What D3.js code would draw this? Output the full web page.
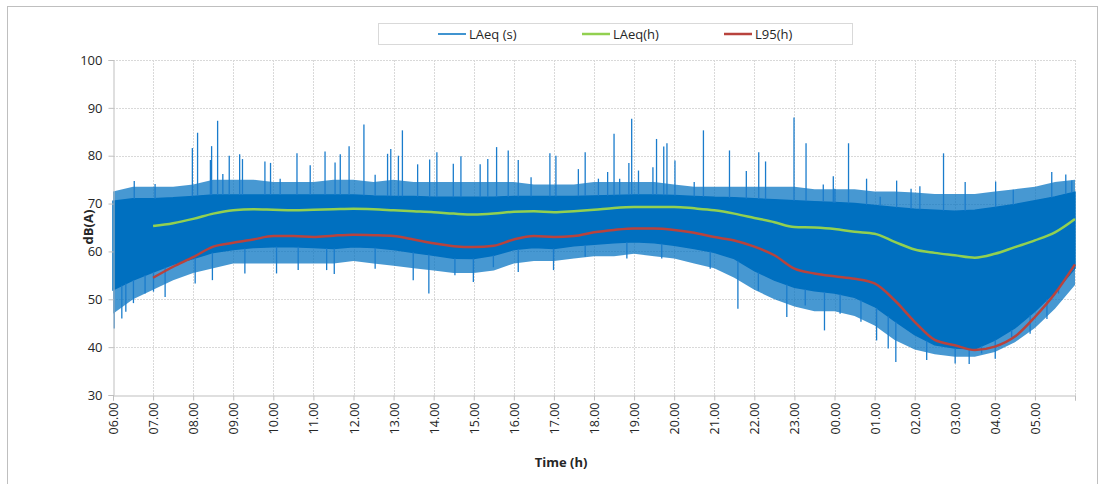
<!DOCTYPE html>
<html lang="en">
    <head>
        <meta charset="utf-8"/>
        <script src="https://d3js.org/d3.v7.min.js"></script>
        <style>
            body { margin: 0; background: #fff; }
            text { font-family: "Open Sans", "Noto Sans", sans-serif; }
        </style>
    </head>
    <body>
        <div id="chart"></div>
    </body>
    <script>
        // time in hours after 06.00, half-hour steps
        var tSteps = [0, 0.5, 1, 1.5, 2, 2.5, 3, 3.5, 4, 4.5, 5, 5.5, 6, 6.5, 7, 7.5, 8, 8.5, 9, 9.5,
            10, 10.5, 11, 11.5, 12, 12.5, 13, 13.5, 14, 14.5, 15, 15.5, 16, 16.5, 17, 17.5, 18, 18.5,
            19, 19.5, 20, 20.5, 21, 21.5, 22, 22.5, 23, 23.5, 24];

        var hourLabels = ["06.00", "07.00", "08.00", "09.00", "10.00", "11.00", "12.00", "13.00",
            "14.00", "15.00", "16.00", "17.00", "18.00", "19.00", "20.00", "21.00", "22.00", "23.00",
            "00.00", "01.00", "02.00", "03.00", "04.00", "05.00"];

        // LAeq (s): dense band, top and bottom of the solid part
        var laeqSHigh = [70.5, 71, 71, 71.2, 71.5, 71.8, 71.8, 71.8, 71.8, 71.8, 71.8, 71.8, 71.8, 71.6,
            71.5, 71.5, 71.3, 71.3, 71.3, 71.3, 71.5, 71.5, 71.5, 71.5, 71.6, 71.7, 71.8, 71.8, 71.7,
            71.5, 71.3, 71.2, 71.0, 70.8, 70.6, 70.4, 70.2, 70.0, 69.6, 69.2, 68.8, 68.6, 68.4, 68.6,
            69.2, 69.8, 70.6, 71.4, 72.4];
        var laeqSLow = [52, 54, 55.7, 57.3, 58.5, 59.8, 60.4, 60.8, 61, 61, 60.8, 60.6, 61.0, 60.8,
            60.4, 59.8, 59.2, 58.6, 58.5, 59.2, 60.4, 60.8, 60.6, 61.2, 61.5, 61.8, 62.0, 61.8, 61.3,
            60.6, 59.8, 58.5, 56.0, 54.0, 52.5, 51.8, 51.3, 50.4, 48.5, 45.5, 42.6, 40.5, 39.8, 39.6,
            41.5, 44.0, 47.5, 51.6, 56.5];

        // LAeq (s): reach of the thin fringe around the solid part
        var laeqSFringeHigh = [72.5, 73.5, 73.5, 73.5, 74, 75, 75, 75, 74.5, 74.5, 74.5, 75, 75, 74.5,
            75, 74.5, 74.5, 74.5, 74.5, 74.5, 74.5, 74, 74, 74, 74.5, 74.5, 74.5, 74.5, 74, 73.5, 73.5,
            73.5, 73.5, 73.5, 73.5, 73, 73, 73, 72.5, 72.5, 72.3, 72, 72, 72, 72.5, 73, 73.5, 74.5, 75];
        var laeqSFringeLow = [47, 50, 52, 54, 55.5, 56.5, 57.5, 57.5, 57.5, 57.5, 57.5, 57.5, 58, 57.5,
            57, 56.5, 56, 55.5, 55.5, 56, 57.5, 58, 58, 58.5, 59, 59, 59.5, 59, 58.5, 57.5, 56.5, 54.5,
            52, 50, 48.5, 47.5, 47.5, 46.5, 44.5, 41.5, 39.5, 38.5, 38, 38, 39, 41, 44, 48, 53];

        // LAeq (s): single peaks [hour, dB]
        var peaksUp = [[0.53, 74.7], [1.05, 74.1], [1.98, 81.6], [2.11, 84.8], [2.43, 79.1], [2.46, 82.0],
            [2.61, 87.3], [2.74, 76.2], [2.90, 80.0], [3.16, 80.3], [3.23, 79.3], [3.79, 78.8],
            [3.93, 78.5], [4.17, 75.2], [4.59, 80.5], [4.92, 78.0], [5.29, 80.9], [5.54, 78.6],
            [5.67, 80.3], [5.89, 82.0], [6.26, 86.5], [6.54, 76.0], [6.85, 80.4], [6.93, 81.4],
            [7.12, 80.0], [7.22, 85.3], [7.60, 78.2], [7.90, 79.2], [8.08, 80.7], [8.49, 78.3],
            [8.68, 79.9], [9.16, 78.2], [9.35, 79.3], [9.57, 81.8], [9.86, 81.1], [10.11, 79.1],
            [10.43, 75.5], [10.90, 80.5], [11.05, 80.0], [11.61, 77.2], [11.78, 80.7], [12.11, 75.2],
            [12.34, 76.6], [12.50, 84.6], [12.64, 75.2], [12.87, 78.5], [12.94, 87.7], [13.11, 76.9],
            [13.47, 77.6], [13.56, 83.5], [13.74, 81.9], [13.82, 82.6], [14.02, 79.0], [14.50, 74.5],
            [14.73, 85.3], [15.38, 81.1], [15.80, 76.8], [16.11, 80.7], [16.28, 78.8], [16.99, 88.0],
            [17.29, 82.6], [17.72, 74.0], [17.97, 75.7], [18.01, 73.1], [18.35, 82.6], [18.80, 75.2],
            [19.14, 71.4], [19.55, 74.8], [19.91, 73.1], [20.13, 73.6], [20.72, 80.5], [21.26, 74.5],
            [22.02, 74.6], [22.46, 72.9], [23.42, 76.6], [23.77, 76.1], [23.92, 74.8]];

        // LAeq (s): single dips [hour, dB]
        var peaksDown = [[0.03, 43.9], [0.22, 46.0], [0.32, 47.4], [0.51, 49.2], [0.80, 51.2], [1.01, 51.6],
            [1.30, 50.5], [2.05, 53.3], [2.48, 54.0], [3.29, 55.4], [4.08, 55.4], [4.62, 56.1],
            [5.33, 56.1], [5.52, 55.3], [6.54, 56.4], [7.49, 54.0], [7.88, 51.2], [8.53, 55.0],
            [8.99, 53.6], [9.49, 56.7], [10.11, 55.7], [10.99, 56.1], [11.78, 58.9], [12.82, 58.5],
            [13.69, 58.5], [14.90, 56.4], [15.59, 48.0], [16.10, 51.8], [16.81, 46.3], [17.27, 48.7],
            [17.75, 43.5], [18.14, 47.0], [18.66, 45.3], [19.05, 41.4], [19.34, 39.7], [19.53, 36.9],
            [20.30, 37.3], [21.01, 36.6], [21.36, 36.5], [21.67, 38.7], [22.01, 37.6], [22.42, 42.1],
            [22.88, 42.8], [23.30, 45.9], [23.59, 51.2], [23.96, 56.7]];

        // hourly lines, from 07.00 (hour 1) to 06.00 (hour 24)
        var hourlyT = tSteps.slice(2);
        var laeqH = [65.3, 65.9, 66.8, 67.9, 68.6, 68.8, 68.7, 68.6, 68.7, 68.8, 68.9, 68.8, 68.6, 68.4,
            68.2, 67.9, 67.7, 67.9, 68.3, 68.4, 68.2, 68.4, 68.7, 69.1, 69.3, 69.3, 69.3, 69.0, 68.6,
            67.9, 67.0, 66.1, 65.1, 65.0, 64.7, 64.1, 63.7, 62.0, 60.4, 59.7, 59.2, 58.7, 59.5, 60.9,
            62.3, 64.0, 66.8];
        var l95H = [54.5, 56.8, 58.8, 61.0, 61.8, 62.5, 63.2, 63.2, 63.0, 63.3, 63.5, 63.4, 63.2, 62.5,
            61.7, 61.1, 60.9, 61.2, 62.5, 63.2, 63.0, 63.2, 64.0, 64.5, 64.8, 64.8, 64.5, 63.9, 63.0,
            62.3, 61.0, 59.2, 56.4, 55.4, 54.8, 54.3, 53.3, 49.8, 45.3, 41.5, 40.4, 39.4, 40.1, 42.2,
            46.3, 51.2, 57.3];

        var yTicks = [30, 40, 50, 60, 70, 80, 90, 100];

        var blue = "#0070c0", green = "#92d050", red = "#b8433d";

        var W = 1105, H = 484;
        var plot = {left: 113, right: 1075, top: 60, bottom: 395};

        var svg = d3.select("#chart")
            .append("svg")
                .attr("width", W)
                .attr("height", H);

        // outer frame
        svg.append("rect")
            .attr("x", 7.5).attr("y", 6.5)
            .attr("width", 1090).attr("height", 480)
            .attr("fill", "none")
            .attr("stroke", "#bfbfbf");

        var x = d3.scaleLinear().domain([0, 24]).range([plot.left, plot.right]);
        var y = d3.scaleLinear().domain([30, 100]).range([plot.bottom, plot.top]);

        // grid
        var grid = svg.append("g");
        grid.selectAll(".gy")
            .data(yTicks.slice(1))
            .enter()
            .append("line")
                .attr("x1", plot.left).attr("x2", plot.right)
                .attr("y1", function (d) { return Math.round(y(d)) + 0.5; })
                .attr("y2", function (d) { return Math.round(y(d)) + 0.5; })
                .attr("stroke", "#d9d9d9")
                .attr("stroke-dasharray", "2,1");
        grid.selectAll(".gx")
            .data(d3.range(1, 25))
            .enter()
            .append("line")
                .attr("x1", function (d) { return Math.round(x(d)) + 0.5; })
                .attr("x2", function (d) { return Math.round(x(d)) + 0.5; })
                .attr("y1", plot.top).attr("y2", plot.bottom)
                .attr("stroke", "#d9d9d9")
                .attr("stroke-dasharray", "2,1");

        // LAeq (s) fringe, then solid band
        var fringe = d3.area()
            .x(function (d, i) { return x(tSteps[i]); })
            .y0(function (d, i) { return y(laeqSFringeLow[i]); })
            .y1(function (d, i) { return y(laeqSFringeHigh[i]); });
        svg.append("path")
            .datum(tSteps)
            .attr("d", fringe)
            .attr("fill", blue)
            .attr("fill-opacity", 0.72);

        var band = d3.area()
            .x(function (d, i) { return x(tSteps[i]); })
            .y0(function (d, i) { return y(laeqSLow[i]); })
            .y1(function (d, i) { return y(laeqSHigh[i]); });
        svg.append("path")
            .datum(tSteps)
            .attr("d", band)
            .attr("fill", blue)
            .attr("stroke", blue)
            .attr("stroke-width", 1.5);

        var hiAt = d3.scaleLinear().domain(tSteps).range(laeqSHigh);
        var loAt = d3.scaleLinear().domain(tSteps).range(laeqSLow);

        svg.append("g").selectAll("line")
            .data(peaksUp)
            .enter()
            .append("line")
                .attr("x1", function (d) { return x(d[0]); })
                .attr("x2", function (d) { return x(d[0]); })
                .attr("y1", function (d) { return y(hiAt(d[0])); })
                .attr("y2", function (d) { return y(d[1]); })
                .attr("stroke", "#1a7ccc")
                .attr("stroke-width", 1.3);
        svg.append("g").selectAll("line")
            .data(peaksDown)
            .enter()
            .append("line")
                .attr("x1", function (d) { return x(d[0]); })
                .attr("x2", function (d) { return x(d[0]); })
                .attr("y1", function (d) { return y(loAt(d[0])); })
                .attr("y2", function (d) { return y(d[1]); })
                .attr("stroke", "#1a7ccc")
                .attr("stroke-width", 1.3);

        // hourly lines
        var line = d3.line()
            .x(function (d) { return x(d[0]); })
            .y(function (d) { return y(d[1]); })
            .curve(d3.curveMonotoneX);

        svg.append("path")
            .datum(hourlyT.map(function (t, i) { return [t, laeqH[i]]; }))
            .attr("d", line)
            .attr("fill", "none")
            .attr("stroke", green)
            .attr("stroke-width", 2.5);
        svg.append("path")
            .datum(hourlyT.map(function (t, i) { return [t, l95H[i]]; }))
            .attr("d", line)
            .attr("fill", "none")
            .attr("stroke", red)
            .attr("stroke-width", 2.5);

        // axes
        var yAxis = svg.append("g")
            .attr("transform", "translate(" + (plot.left + 0.5) + ",0)")
            .call(d3.axisLeft(y).tickValues(yTicks).tickSize(5).tickPadding(6));
        yAxis.select(".domain").attr("stroke", "#bfbfbf");
        yAxis.selectAll(".tick line").attr("stroke", "#bfbfbf");
        yAxis.selectAll("text")
            .attr("font-size", "13px")
            .attr("fill", "#262626")
            .style("font-family", "'Open Sans', sans-serif");

        var xAxis = svg.append("g")
            .attr("transform", "translate(0," + (plot.bottom + 0.5) + ")")
            .call(d3.axisBottom(x).tickValues(d3.range(0, 25)).tickSize(5).tickFormat(function (d) {
                return d < 24 ? hourLabels[d] : "";
            }));
        xAxis.select(".domain").attr("stroke", "#bfbfbf");
        xAxis.selectAll(".tick line").attr("stroke", "#bfbfbf");
        xAxis.selectAll("text")
            .attr("font-size", "12.5px")
            .attr("fill", "#262626")
            .style("font-family", "'Open Sans', sans-serif")
            .attr("text-anchor", "end")
            .attr("transform", "rotate(-90)")
            .attr("x", -7)
            .attr("y", 0)
            .attr("dy", "0.36em");

        // axis titles
        svg.append("text")
            .attr("transform", "translate(93,227) rotate(-90)")
            .attr("text-anchor", "middle")
            .attr("font-size", "13px")
            .attr("font-weight", "bold")
            .attr("fill", "#262626")
            .text("dB(A)");
        svg.append("text")
            .attr("x", 561).attr("y", 467)
            .attr("text-anchor", "middle")
            .attr("font-size", "13px")
            .attr("font-weight", "bold")
            .attr("fill", "#262626")
            .text("Time (h)");

        // legend
        var legendItems = [
            {name: "LAeq (s)", color: blue, x: 438},
            {name: "LAeq(h)", color: green, x: 582},
            {name: "L95(h)", color: red, x: 724}
        ];
        var legend = svg.append("g");
        legend.append("rect")
            .attr("x", 378.5).attr("y", 23.5)
            .attr("width", 474).attr("height", 21)
            .attr("fill", "#fff")
            .attr("stroke", "#d9d9d9");
        var li = legend.selectAll(".li")
            .data(legendItems)
            .enter()
            .append("g");
        li.append("line")
            .attr("x1", function (d) { return d.x; })
            .attr("x2", function (d) { return d.x + 28; })
            .attr("y1", 34).attr("y2", 34)
            .attr("stroke", function (d) { return d.color; })
            .attr("stroke-width", function (d, i) { return i == 0 ? 1.5 : 2.5; });
        li.append("text")
            .attr("x", function (d) { return d.x + 31; })
            .attr("y", 38.5)
            .attr("font-size", "13px")
            .attr("fill", "#262626")
            .text(function (d) { return d.name; });
    </script>
</html>
